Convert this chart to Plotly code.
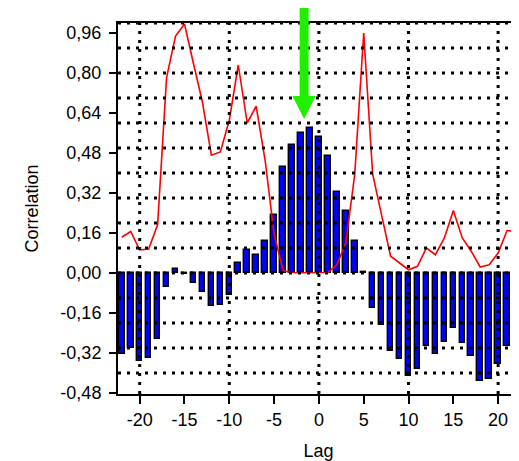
import plotly.graph_objects as go

# ---- data ----
lags = list(range(-22, 23))
correlation = [
    -0.322, -0.298, -0.352, -0.338, -0.265, -0.055, 0.016, -0.003, -0.041, -0.075,
    -0.131, -0.127, -0.087, 0.040, 0.094, 0.074, 0.130, 0.233, 0.426, 0.511,
    0.560, 0.582, 0.544, 0.469, 0.324, 0.247, 0.130, 0.005, -0.140, -0.207,
    -0.310, -0.345, -0.412, -0.385, -0.290, -0.325, -0.274, -0.220, -0.280, -0.330,
    -0.432, -0.422, -0.362, -0.290, -0.305,
]
red_line = [
    0.143, 0.166, 0.092, 0.096, 0.193, 0.782, 0.948, 0.996, 0.838, 0.684,
    0.471, 0.484, 0.611, 0.832, 0.600, 0.667, 0.450, 0.156, 0.010, 0.002,
    0.001, 0.001, 0.001, 0.002, 0.033, 0.120, 0.395, 0.960, 0.395, 0.234,
    0.067, 0.040, 0.013, 0.027, 0.100, 0.073, 0.140, 0.250, 0.140, 0.087,
    0.024, 0.033, 0.080, 0.170, 0.167,
]
y_tick_vals = [-0.48, -0.32, -0.16, 0.00, 0.16, 0.32, 0.48, 0.64, 0.80, 0.96]
y_tick_text = ["-0,48", "-0,32", "-0,16", "0,00", "0,16", "0,32", "0,48", "0,64", "0,80", "0,96"]
x_tick_vals = [-20, -15, -10, -5, 0, 5, 10, 15, 20]
x_tick_text = ["-20", "-15", "-10", "-5", "0", "5", "10", "15", "20"]
h_grid = [-0.4, -0.3, -0.2, -0.1, 0.0, 0.1, 0.2, 0.3, 0.4, 0.5, 0.6, 0.7, 0.8, 0.9, 1.0]
v_grid = [-20, -10, 0, 10, 20]
arrow_lag = -1.65

FONT = "Liberation Sans, Arial, sans-serif"

fig = go.Figure()
fig.add_trace(go.Bar(
    x=lags, y=correlation, width=0.62,
    marker=dict(color="#0000FF", line=dict(color="black", width=1.4)),
    showlegend=False,
))
fig.add_trace(go.Scatter(
    x=lags, y=red_line, mode="lines",
    line=dict(color="#FF0000", width=1.6),
    showlegend=False,
))

grid_style = dict(color="black", width=3, dash="3px,6px")
for g in h_grid:
    fig.add_shape(type="line", xref="paper", yref="y", x0=0, x1=1, y0=g, y1=g,
                  line=grid_style, layer="above")
for g in v_grid:
    fig.add_shape(type="line", xref="x", yref="paper", x0=g, x1=g, y0=0, y1=1,
                  line=grid_style, layer="above")

# green arrow
a = arrow_lag
top, base, tip = 1.043, 0.803, 0.741
path = (f"M {a-0.5},{top} L {a+0.5},{top} L {a+0.5},{base} L {a+1.3},{base} "
        f"L {a},{tip} L {a-1.3},{base} L {a-0.5},{base} Z")
fig.add_shape(type="path", xref="x", yref="paper", path=path,
              fillcolor="#22EE00", line=dict(width=0), layer="above")

# page body adds an 8px offset at top/left, so the figure is 8px smaller and margins shifted
fig.update_layout(
    width=511, height=453,
    margin=dict(l=110, r=0, t=15, b=67, autoexpand=False),
    paper_bgcolor="white", plot_bgcolor="white",
    font=dict(family=FONT, size=18, color="black"),
    bargap=0,
)
fig.update_xaxes(
    range=[-22.42, 22.33], tickmode="array", tickvals=x_tick_vals, ticktext=x_tick_text,
    ticks="outside", ticklen=8, tickwidth=1.5, tickcolor="black",
    showgrid=False, zeroline=False, automargin=False,
    showline=True, linecolor="black", linewidth=2, mirror=True,
    title=dict(text="Lag", font=dict(size=18), standoff=16),
    tickfont=dict(size=18),
)
fig.update_yaxes(
    range=[-0.484, 1.0], tickmode="array", tickvals=y_tick_vals, ticktext=y_tick_text,
    ticks="outside", ticklen=7, tickwidth=1.5, tickcolor="black",
    showgrid=False, zeroline=False, automargin=False,
    showline=True, linecolor="black", linewidth=2, mirror=False,
    title=dict(text="Correlation", font=dict(size=18), standoff=17),
    tickfont=dict(size=18), ticklabelstandoff=4,
)

fig.write_html("out.html")
